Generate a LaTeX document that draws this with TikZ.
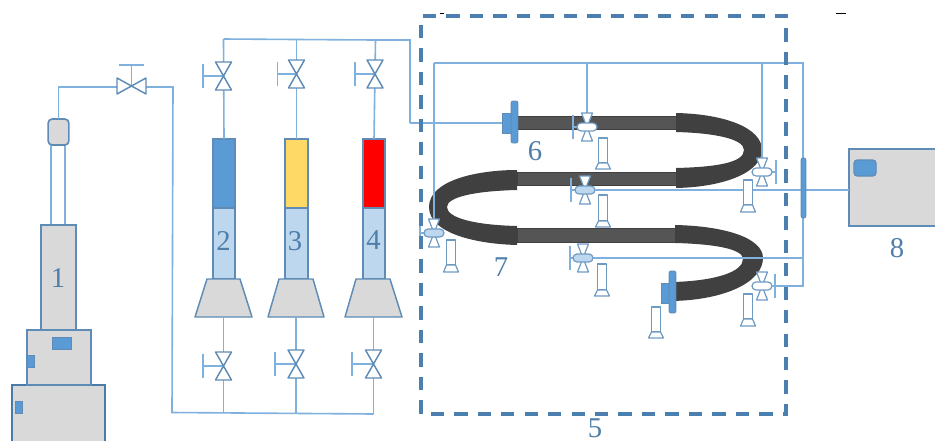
\documentclass[tikz,border=0pt]{standalone}
\usepackage{fontspec}
\setmainfont{Liberation Serif}
\definecolor{pipec}{HTML}{7FB1DF}
\definecolor{edgec}{HTML}{5E8CB6}
\definecolor{fineedge}{HTML}{6F9AC2}
\definecolor{darkedge}{HTML}{4A7AA8}
\definecolor{dashc}{HTML}{4A7FB0}
\definecolor{bluef}{HTML}{5B9BD5}
\definecolor{paleb}{HTML}{BDD7EE}
\definecolor{grayf}{HTML}{D9D9D9}
\definecolor{yellowf}{HTML}{FFD966}
\definecolor{tubec}{HTML}{555555}
\definecolor{bendc}{HTML}{404040}
\definecolor{labelc}{HTML}{4F7EA8}
\tikzset{
  pipe/.style={draw=pipec,line width=1.2pt},
  thinpipe/.style={draw=pipec,line width=1pt},
  outl/.style={draw=edgec,line width=1.1pt,line join=round},
  fineoutl/.style={draw=fineedge,line width=0.9pt,line join=round},
  blockbox/.style={draw=edgec,line width=1.2pt,fill=grayf,inner sep=0pt,outer sep=0pt},
  partbox/.style={draw=edgec,line width=0.7pt,fill=bluef,inner sep=0pt,outer sep=0pt},
  cyl/.style={draw=edgec,line width=1.3pt,inner sep=0pt,outer sep=0pt},
  tube/.style={draw=black!75,line width=0.5pt,fill=tubec,inner sep=0pt,outer sep=0pt},
  lab/.style={text=labelc,font=\fontsize{21.5}{24}\selectfont,inner sep=0pt},
}
% name, x0, y0, x1, y1, style
\newcommand\bx[6]{\node[#6,rectangle,minimum width={(#4-#2)*0.75pt},minimum height={(#5-#3)*0.75pt}] (#1) at ({(#2+#4)/2},{(#3+#5)/2}) {};}
% vertical valve: name, x, y, bar x
\newcommand\vvalve[4]{%
  \coordinate (#1) at (#2,#3);
  \coordinate (#1t) at (#2,#3-14);
  \coordinate (#1b) at (#2,#3+14);
  \coordinate (#1h) at (#4,#3);
  \draw[thinpipe] (#1h) -- (#1);
  \draw[thinpipe] ([yshift=9pt]#1h) -- ([yshift=-9pt]#1h);
  \draw[outl,fill=white] (#2-8,#3-14) -- (#2+8,#3-14) -- (#2-8,#3+14) -- (#2+8,#3+14) -- cycle;
}
% tube valve: name, x, y, bar x, fill
\newcommand\tvalve[5]{%
  \coordinate (#1) at (#2,#3);
  \coordinate (#1t) at (#2,#3-14);
  \coordinate (#1l) at (#2-10,#3);
  \coordinate (#1r) at (#2+10,#3);
  \coordinate (#1h) at (#4,#3);
  \draw[pipe] (#1h) -- (#1);
  \draw[pipe] ([yshift=9pt]#1h) -- ([yshift=-9pt]#1h);
  \draw[fineoutl,fill=white] (#2-5.5,#3-14) -- (#2+5.5,#3-14) -- (#2-5.5,#3+14) -- (#2+5.5,#3+14) -- cycle;
  \draw[fineoutl,fill=#5,rounded corners=3pt] (#2-10,#3-4) rectangle (#2+10,#3+4);
}
% gauge: x centre, top, bottom of the stem, bottom of the foot
\newcommand\gauge[4]{%
  \draw[fineoutl,fill=white] (#1-4.5,#2) rectangle (#1+4.5,#3);
  \draw[fineoutl,fill=white] (#1-4.5,#3) -- (#1+4.5,#3) -- (#1+7.5,#4) -- (#1-7.5,#4) -- cycle;
}
\begin{document}
\begin{tikzpicture}[x=0.75pt,y=-0.75pt]
\useasboundingbox (0,0) rectangle (935,440);
\fill[white] (0,0) rectangle (935,440);

% ---------- pump (1)
\draw[pipe] (51,145) -- (51,225);
\draw[pipe] (65,145) -- (65,225);
\bx{pumpLow}{12}{385}{105}{445}{blockbox,line width=1.8pt,draw=darkedge}
\bx{pumpMid}{27}{330}{91}{385}{blockbox}
\bx{pumpTop}{41}{225}{76}{330}{blockbox}
\bx{pumpA}{52}{337}{71}{349}{partbox}
\bx{pumpB}{27}{355}{34}{367}{partbox}
\bx{pumpC}{15.5}{401}{22}{413}{partbox}
\node[blockbox,rectangle,rounded corners=3pt,minimum width=15.5pt,minimum height=19.5pt] (cap) at (58.5,132) {};
\node[lab] (n1) at (58,278) {1};

% ---------- first valve and feed line
\coordinate (v0) at (131.5,86);
\coordinate (feedA) at (58.5,87);
\coordinate (feedB) at (173,87);
\coordinate (feedC) at (172,412.5);
\coordinate (feedD) at (373.5,414);
\draw[pipe] (cap.north) -- (feedA) -- (117,87);
\draw[pipe] (146,87) -- (feedB) -- (feedC) -- (feedD);
\draw[thinpipe] (v0) -- (131.5,65);
\draw[pipe] (119,65) -- (144,65);
\draw[outl,fill=white] (117,78) -- (117,94) -- (146,78) -- (146,94) -- cycle;

% ---------- upper header
\coordinate (topA) at (223.5,39);
\coordinate (topB) at (296.5,39.5);
\coordinate (topC) at (375.5,40);
\coordinate (topD) at (410,40);
\coordinate (topE) at (410,123);
\draw[pipe] (topA) -- (topB) -- (topC) -- (topD) -- (topE);

% ---------- cylinders
\bx{c2t}{213}{139}{235}{208}{cyl,fill=bluef}
\bx{c2b}{213}{208}{235}{279}{cyl,fill=paleb}
\bx{c3t}{285}{139}{308}{208}{cyl,fill=yellowf}
\bx{c3b}{285}{208}{308}{279}{cyl,fill=paleb}
\bx{c4t}{363}{139}{385}{208}{cyl,fill=red}
\bx{c4b}{363}{208}{385}{279}{cyl,fill=paleb}
\draw[outl,fill=grayf] (207,279) -- (240,279) -- (252,317) -- (195,317) -- cycle;
\draw[outl,fill=grayf] (279,279) -- (313,279) -- (324,317) -- (268,317) -- cycle;
\draw[outl,fill=grayf] (356,279) -- (390,279) -- (402,317) -- (345,317) -- cycle;
\coordinate (t2) at (223.5,317);
\coordinate (t3) at (296,317);
\coordinate (t4) at (373.5,317);
\coordinate (f2) at (223.5,413);
\coordinate (f3) at (296,413.5);
\coordinate (f4) at (373.5,414);
\node[lab] (n2) at (223.5,241) {2};
\node[lab] (n3) at (295,241) {3};
\node[lab] (n4) at (373.5,240) {4};

% ---------- upper and lower valves of the cylinders
\draw[pipe] (topA) -- (c2t.north);
\draw[pipe] (topB) -- (c3t.north);
\draw[pipe] (topC) -- (c4t.north);
\draw[pipe] (t2) -- (f2);
\draw[pipe] (t3) -- (f3);
\draw[pipe] (t4) -- (f4);
\vvalve{u2}{223.5}{76}{203}
\vvalve{u3}{296.5}{74}{277.5}
\vvalve{u4}{375}{74}{355}
\vvalve{d2}{223.5}{366}{203}
\vvalve{d3}{296}{364}{275}
\vvalve{d4}{373.5}{364}{352}

% ---------- tubes
\bx{s1}{517}{116}{678}{129.5}{tube}
\bx{s2}{517}{172}{678}{185}{tube}
\bx{s3}{517}{228}{678}{242}{tube}
\fill[bendc] (676,113) .. controls (725,114) and (762,128) .. (762,150)
  .. controls (762,172) and (725,187) .. (676,188) -- (676,168)
  .. controls (715,167) and (744,163) .. (744,150)
  .. controls (744,139) and (715,133) .. (676,132) -- cycle;
\fill[bendc] (517,170) .. controls (478,170) and (429,180) .. (429,207)
  .. controls (429,234) and (478,244) .. (517,245) -- (517,226)
  .. controls (475,225) and (447,218) .. (447,207)
  .. controls (447,197) and (475,191) .. (517,190) -- cycle;
\fill[bendc] (675,225) .. controls (725,226) and (763,238) .. (763,258)
  .. controls (763,282) and (725,300) .. (672,301) -- (672,282)
  .. controls (715,281) and (743,272) .. (743,259)
  .. controls (743,249) and (715,244) .. (675,243) -- cycle;

% ---------- flanges
\bx{fl6a}{502}{113}{512}{133}{partbox}
\node[partbox,rectangle,rounded corners=1.5pt,minimum width=5pt,minimum height=31.5pt] (fl6b) at (514.5,122) {};
\bx{fl7a}{661}{283}{671}{303}{partbox}
\node[partbox,rectangle,rounded corners=1.5pt,minimum width=5pt,minimum height=31.5pt] (fl7b) at (672.5,292) {};

% ---------- pipes of the test section
\coordinate (hA) at (434,63);
\coordinate (hB) at (587,63);
\coordinate (hC) at (762,63);
\coordinate (hD) at (803,63);
\coordinate (cut) at (803,158);
\coordinate (j3) at (803,258);
\coordinate (j4) at (803,286);
\draw[pipe] (topE) -- (fl6a.west);
\draw[pipe] (hA) -- (434,219);
\draw[pipe] (hA) -- (hB) -- (hC) -- (hD) -- (cut);
\draw[pipe] (hB) -- (587,113);
\draw[pipe] (hC) -- (762,158);

% ---------- valves on the tubes
\tvalve{w1}{587}{127}{573}{white}
\tvalve{w2}{585}{190}{571}{paleb}
\tvalve{w3}{583}{258}{570}{paleb}
\tvalve{w4}{434}{233}{420}{paleb}
\tvalve{w5}{762}{172}{776}{white}
\tvalve{w6}{762}{286}{775}{white}
\bx{box8}{849}{149}{937}{226}{blockbox}
\node[partbox,rectangle,rounded corners=2.5pt,line width=1pt,minimum width=16.5pt,minimum height=12pt] (box8a) at (865,168) {};
\draw[pipe] (w2r) -- (box8.west |- w2r);
\draw[pipe] (w3r) -- (j3);
\draw[pipe] (w6r) -- (j4) -- (cut);
\node[partbox,rectangle,rounded corners=1.5pt,minimum width=3.5pt,minimum height=45pt] (bar8) at (803.5,188) {};

% ---------- gauges
\gauge{603}{138}{163}{169}
\gauge{603}{195}{221}{227}
\gauge{602}{264}{290}{296}
\gauge{451}{240}{265}{272}
\gauge{656}{307}{332}{338}
\gauge{748}{180}{205}{212}
\gauge{748}{294}{319}{326}

% ---------- dashed enclosure
\draw[draw=dashc,line width=2.6pt,dash pattern=on 10pt off 7.6pt] (423,16) -- (786,16) -- (786,414) -- (421,414) -- (421,16);

% ---------- labels
\node[lab] (n5) at (595,428) {5};
\node[lab] (n6) at (535,151) {6};
\node[lab] (n7) at (501,267) {7};
\node[lab] (n8) at (897,248) {8};

% ---------- specks
\draw[black,line width=0.8pt] (440,13.5) -- (444,13.5);
\draw[black,line width=0.8pt] (836,13.7) -- (846,13.7);
\end{tikzpicture}
\end{document}
